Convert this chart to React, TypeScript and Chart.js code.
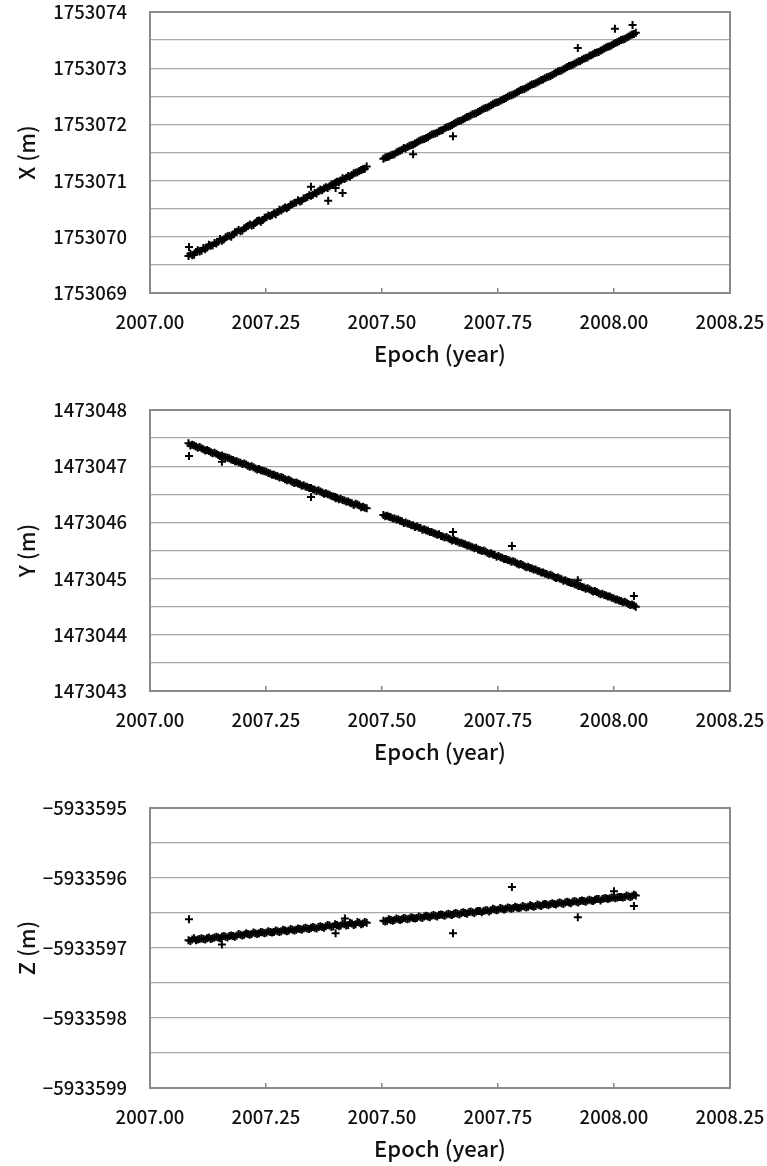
import React, { useEffect, useRef } from 'react';
import { Chart, registerables } from 'chart.js';

Chart.register(...registerables);

// Observation epochs (decimal year) of the daily solutions, first set
const EPOCHS = [
  2007.083, 2007.091, 2007.099, 2007.107, 2007.115, 2007.123, 2007.131, 2007.139, 2007.147, 2007.155,
  2007.163, 2007.171, 2007.179, 2007.187, 2007.195, 2007.203, 2007.211, 2007.219, 2007.227, 2007.235,
  2007.243, 2007.251, 2007.259, 2007.267, 2007.275, 2007.283, 2007.291, 2007.299, 2007.307, 2007.315,
  2007.323, 2007.331, 2007.339, 2007.347, 2007.355, 2007.363, 2007.371, 2007.379, 2007.387, 2007.395,
  2007.403, 2007.411, 2007.419, 2007.427, 2007.435, 2007.443, 2007.451, 2007.459, 2007.467,
  2007.503, 2007.511, 2007.519, 2007.527, 2007.535, 2007.543, 2007.551, 2007.559, 2007.567, 2007.575,
  2007.583, 2007.591, 2007.599, 2007.607, 2007.615, 2007.623, 2007.631, 2007.639, 2007.647, 2007.655,
  2007.663, 2007.671, 2007.679, 2007.687, 2007.695, 2007.703, 2007.711, 2007.719, 2007.727, 2007.735,
  2007.743, 2007.751, 2007.759, 2007.767, 2007.775, 2007.783, 2007.791, 2007.799, 2007.807, 2007.815,
  2007.823, 2007.831, 2007.839, 2007.847, 2007.855, 2007.863, 2007.871, 2007.879, 2007.887, 2007.895,
  2007.903, 2007.911, 2007.919, 2007.927, 2007.935, 2007.943, 2007.951, 2007.959, 2007.967, 2007.975,
  2007.983, 2007.991, 2007.999, 2008.007, 2008.015, 2008.023, 2008.031, 2008.039, 2008.047,
];

// Observation epochs of the daily solutions, second (interleaved) set
const EPOCHS_MID = [
  2007.087, 2007.095, 2007.103, 2007.111, 2007.119, 2007.127, 2007.135, 2007.143, 2007.151, 2007.159,
  2007.167, 2007.175, 2007.183, 2007.191, 2007.199, 2007.207, 2007.215, 2007.223, 2007.231, 2007.239,
  2007.247, 2007.255, 2007.263, 2007.271, 2007.279, 2007.287, 2007.295, 2007.303, 2007.311, 2007.319,
  2007.327, 2007.335, 2007.343, 2007.351, 2007.359, 2007.367, 2007.375, 2007.383, 2007.391, 2007.399,
  2007.407, 2007.415, 2007.423, 2007.431, 2007.439, 2007.447, 2007.455, 2007.463,
  2007.507, 2007.515, 2007.523, 2007.531, 2007.539, 2007.547, 2007.555, 2007.563, 2007.571, 2007.579,
  2007.587, 2007.595, 2007.603, 2007.611, 2007.619, 2007.627, 2007.635, 2007.643, 2007.651, 2007.659,
  2007.667, 2007.675, 2007.683, 2007.691, 2007.699, 2007.707, 2007.715, 2007.723, 2007.731, 2007.739,
  2007.747, 2007.755, 2007.763, 2007.771, 2007.779, 2007.787, 2007.795, 2007.803, 2007.811, 2007.819,
  2007.827, 2007.835, 2007.843, 2007.851, 2007.859, 2007.867, 2007.875, 2007.883, 2007.891, 2007.899,
  2007.907, 2007.915, 2007.923, 2007.931, 2007.939, 2007.947, 2007.955, 2007.963, 2007.971, 2007.979,
  2007.987, 2007.995, 2008.003, 2008.011, 2008.019, 2008.027, 2008.035, 2008.043,
];

// X coordinate (m)
const X_VALUES = [
  1753069.66, 1753069.67, 1753069.73, 1753069.74, 1753069.80, 1753069.81, 1753069.84, 1753069.89, 1753069.91, 1753069.93,
  1753069.99, 1753070.02, 1753070.04, 1753070.09, 1753070.10, 1753070.15, 1753070.19, 1753070.20, 1753070.25, 1753070.29,
  1753070.30, 1753070.35, 1753070.37, 1753070.42, 1753070.44, 1753070.47, 1753070.52, 1753070.53, 1753070.58, 1753070.61,
  1753070.63, 1753070.68, 1753070.71, 1753070.73, 1753070.78, 1753070.81, 1753070.83, 1753070.88, 1753070.90, 1753070.94,
  1753070.98, 1753071.00, 1753071.03, 1753071.08, 1753071.10, 1753071.14, 1753071.17, 1753071.20, 1753071.25,
  1753071.39, 1753071.42, 1753071.45, 1753071.47, 1753071.52, 1753071.55, 1753071.57, 1753071.62, 1753071.64, 1753071.68,
  1753071.72, 1753071.74, 1753071.77, 1753071.82, 1753071.84, 1753071.88, 1753071.90, 1753071.95, 1753071.97, 1753072.01,
  1753072.05, 1753072.07, 1753072.11, 1753072.14, 1753072.18, 1753072.20, 1753072.24, 1753072.28, 1753072.30, 1753072.34,
  1753072.38, 1753072.40, 1753072.44, 1753072.47, 1753072.51, 1753072.53, 1753072.57, 1753072.61, 1753072.63, 1753072.67,
  1753072.71, 1753072.73, 1753072.77, 1753072.80, 1753072.84, 1753072.86, 1753072.90, 1753072.94, 1753072.96, 1753073.00,
  1753073.04, 1753073.06, 1753073.10, 1753073.13, 1753073.17, 1753073.19, 1753073.23, 1753073.27, 1753073.29, 1753073.33,
  1753073.37, 1753073.39, 1753073.43, 1753073.46, 1753073.50, 1753073.52, 1753073.56, 1753073.60, 1753073.63,
];
const X_VALUES_MID = [
  1753069.70, 1753069.68, 1753069.76, 1753069.75, 1753069.78, 1753069.86, 1753069.85, 1753069.88, 1753069.96, 1753069.95,
  1753070.01, 1753070.00, 1753070.08, 1753070.12, 1753070.11, 1753070.17, 1753070.22, 1753070.21, 1753070.28, 1753070.27,
  1753070.34, 1753070.38, 1753070.39, 1753070.40, 1753070.48, 1753070.50, 1753070.51, 1753070.57, 1753070.60, 1753070.65,
  1753070.64, 1753070.69, 1753070.74, 1753070.75, 1753070.77, 1753070.84, 1753070.86, 1753070.87, 1753070.93, 1753070.96,
  1753070.97, 1753071.04, 1753071.05, 1753071.07, 1753071.13, 1753071.15, 1753071.19, 1753071.21,
  1753071.41, 1753071.43, 1753071.46, 1753071.50, 1753071.53, 1753071.58, 1753071.60, 1753071.63, 1753071.66, 1753071.70,
  1753071.73, 1753071.76, 1753071.80, 1753071.83, 1753071.85, 1753071.89, 1753071.93, 1753071.96, 1753071.99, 1753072.03,
  1753072.06, 1753072.09, 1753072.13, 1753072.16, 1753072.19, 1753072.22, 1753072.26, 1753072.29, 1753072.32, 1753072.36,
  1753072.39, 1753072.42, 1753072.45, 1753072.49, 1753072.52, 1753072.55, 1753072.59, 1753072.62, 1753072.65, 1753072.69,
  1753072.72, 1753072.75, 1753072.79, 1753072.82, 1753072.85, 1753072.88, 1753072.92, 1753072.95, 1753072.98, 1753073.02,
  1753073.05, 1753073.08, 1753073.12, 1753073.15, 1753073.18, 1753073.22, 1753073.25, 1753073.28, 1753073.31, 1753073.35,
  1753073.38, 1753073.41, 1753073.45, 1753073.48, 1753073.51, 1753073.54, 1753073.58, 1753073.61,
];

// Y coordinate (m)
const Y_VALUES = [
  1473047.41, 1473047.38, 1473047.35, 1473047.34, 1473047.30, 1473047.29, 1473047.25, 1473047.24, 1473047.20, 1473047.19,
  1473047.16, 1473047.14, 1473047.11, 1473047.09, 1473047.06, 1473047.05, 1473047.01, 1473047.00, 1473046.96, 1473046.95,
  1473046.92, 1473046.90, 1473046.87, 1473046.85, 1473046.82, 1473046.81, 1473046.77, 1473046.76, 1473046.72, 1473046.71,
  1473046.68, 1473046.66, 1473046.63, 1473046.61, 1473046.58, 1473046.57, 1473046.53, 1473046.52, 1473046.49, 1473046.46,
  1473046.44, 1473046.42, 1473046.39, 1473046.37, 1473046.34, 1473046.33, 1473046.30, 1473046.28, 1473046.25,
  1473046.13, 1473046.12, 1473046.09, 1473046.07, 1473046.05, 1473046.02, 1473046.00, 1473045.97, 1473045.95, 1473045.93,
  1473045.90, 1473045.88, 1473045.85, 1473045.83, 1473045.80, 1473045.79, 1473045.75, 1473045.74, 1473045.70, 1473045.69,
  1473045.66, 1473045.64, 1473045.61, 1473045.59, 1473045.56, 1473045.55, 1473045.51, 1473045.50, 1473045.46, 1473045.45,
  1473045.42, 1473045.40, 1473045.37, 1473045.35, 1473045.32, 1473045.31, 1473045.27, 1473045.26, 1473045.22, 1473045.21,
  1473045.18, 1473045.16, 1473045.13, 1473045.11, 1473045.08, 1473045.07, 1473045.03, 1473045.02, 1473044.99, 1473044.97,
  1473044.94, 1473044.92, 1473044.89, 1473044.87, 1473044.84, 1473044.83, 1473044.79, 1473044.78, 1473044.74, 1473044.73,
  1473044.70, 1473044.68, 1473044.65, 1473044.63, 1473044.60, 1473044.59, 1473044.55, 1473044.54, 1473044.50,
];
const Y_VALUES_MID = [
  1473047.37, 1473047.37, 1473047.33, 1473047.32, 1473047.28, 1473047.27, 1473047.23, 1473047.22, 1473047.18, 1473047.17,
  1473047.15, 1473047.12, 1473047.09, 1473047.07, 1473047.04, 1473047.03, 1473046.99, 1473046.98, 1473046.94, 1473046.93,
  1473046.91, 1473046.88, 1473046.85, 1473046.83, 1473046.80, 1473046.79, 1473046.75, 1473046.74, 1473046.70, 1473046.69,
  1473046.65, 1473046.64, 1473046.61, 1473046.59, 1473046.56, 1473046.55, 1473046.51, 1473046.50, 1473046.47, 1473046.45,
  1473046.41, 1473046.40, 1473046.37, 1473046.35, 1473046.31, 1473046.32, 1473046.27, 1473046.26,
  1473046.11, 1473046.10, 1473046.07, 1473046.05, 1473046.03, 1473045.99, 1473045.98, 1473045.95, 1473045.92, 1473045.91,
  1473045.87, 1473045.86, 1473045.83, 1473045.81, 1473045.78, 1473045.76, 1473045.73, 1473045.72, 1473045.68, 1473045.67,
  1473045.64, 1473045.62, 1473045.59, 1473045.57, 1473045.54, 1473045.52, 1473045.49, 1473045.48, 1473045.44, 1473045.43,
  1473045.39, 1473045.38, 1473045.35, 1473045.33, 1473045.30, 1473045.29, 1473045.25, 1473045.24, 1473045.20, 1473045.19,
  1473045.16, 1473045.14, 1473045.11, 1473045.09, 1473045.06, 1473045.05, 1473045.01, 1473045.00, 1473044.96, 1473044.95,
  1473044.92, 1473044.90, 1473044.87, 1473044.85, 1473044.82, 1473044.81, 1473044.77, 1473044.76, 1473044.72, 1473044.71,
  1473044.68, 1473044.66, 1473044.63, 1473044.61, 1473044.58, 1473044.57, 1473044.53, 1473044.52,
];

// Z coordinate (m)
const Z_VALUES = [
  -5933596.89, -5933596.88, -5933596.89, -5933596.87, -5933596.87, -5933596.86, -5933596.87, -5933596.85, -5933596.85, -5933596.84,
  -5933596.84, -5933596.83, -5933596.83, -5933596.82, -5933596.81, -5933596.81, -5933596.80, -5933596.80, -5933596.79, -5933596.79,
  -5933596.78, -5933596.78, -5933596.77, -5933596.77, -5933596.76, -5933596.76, -5933596.75, -5933596.75, -5933596.74, -5933596.74,
  -5933596.73, -5933596.72, -5933596.72, -5933596.71, -5933596.71, -5933596.70, -5933596.70, -5933596.69, -5933596.68, -5933596.69,
  -5933596.67, -5933596.68, -5933596.66, -5933596.67, -5933596.65, -5933596.66, -5933596.64, -5933596.65, -5933596.64,
  -5933596.61, -5933596.61, -5933596.60, -5933596.60, -5933596.59, -5933596.59, -5933596.58, -5933596.58, -5933596.57, -5933596.57,
  -5933596.56, -5933596.55, -5933596.55, -5933596.54, -5933596.54, -5933596.53, -5933596.53, -5933596.52, -5933596.52, -5933596.51,
  -5933596.51, -5933596.50, -5933596.50, -5933596.49, -5933596.49, -5933596.48, -5933596.47, -5933596.47, -5933596.46, -5933596.46,
  -5933596.45, -5933596.45, -5933596.44, -5933596.44, -5933596.43, -5933596.43, -5933596.42, -5933596.42, -5933596.41, -5933596.41,
  -5933596.40, -5933596.40, -5933596.39, -5933596.38, -5933596.38, -5933596.37, -5933596.37, -5933596.36, -5933596.36, -5933596.35,
  -5933596.35, -5933596.34, -5933596.34, -5933596.33, -5933596.33, -5933596.32, -5933596.32, -5933596.31, -5933596.30, -5933596.30,
  -5933596.29, -5933596.29, -5933596.28, -5933596.28, -5933596.27, -5933596.27, -5933596.26, -5933596.26, -5933596.25,
];
const Z_VALUES_MID = [
  -5933596.90, -5933596.86, -5933596.88, -5933596.86, -5933596.88, -5933596.85, -5933596.86, -5933596.84, -5933596.86, -5933596.83,
  -5933596.85, -5933596.82, -5933596.84, -5933596.80, -5933596.82, -5933596.79, -5933596.81, -5933596.78, -5933596.80, -5933596.77,
  -5933596.79, -5933596.76, -5933596.78, -5933596.75, -5933596.77, -5933596.74, -5933596.76, -5933596.73, -5933596.75, -5933596.72,
  -5933596.74, -5933596.71, -5933596.73, -5933596.70, -5933596.72, -5933596.69, -5933596.71, -5933596.67, -5933596.70, -5933596.66,
  -5933596.69, -5933596.65, -5933596.68, -5933596.64, -5933596.67, -5933596.63, -5933596.66, -5933596.63,
  -5933596.62, -5933596.59, -5933596.61, -5933596.58, -5933596.60, -5933596.57, -5933596.59, -5933596.56, -5933596.58, -5933596.55,
  -5933596.57, -5933596.54, -5933596.56, -5933596.53, -5933596.55, -5933596.52, -5933596.54, -5933596.51, -5933596.53, -5933596.50,
  -5933596.52, -5933596.49, -5933596.51, -5933596.48, -5933596.50, -5933596.47, -5933596.49, -5933596.46, -5933596.48, -5933596.44,
  -5933596.46, -5933596.43, -5933596.45, -5933596.42, -5933596.44, -5933596.41, -5933596.43, -5933596.40, -5933596.42, -5933596.39,
  -5933596.41, -5933596.38, -5933596.40, -5933596.37, -5933596.39, -5933596.36, -5933596.38, -5933596.35, -5933596.37, -5933596.34,
  -5933596.36, -5933596.33, -5933596.35, -5933596.32, -5933596.34, -5933596.31, -5933596.33, -5933596.30, -5933596.32, -5933596.29,
  -5933596.30, -5933596.28, -5933596.29, -5933596.27, -5933596.28, -5933596.25, -5933596.27, -5933596.24,
];

// Outlying solutions
const X_OUT_EPOCHS = [2007.084, 2007.347, 2007.384, 2007.400, 2007.415, 2007.567, 2007.653, 2007.922, 2008.002, 2008.040];
const X_OUT_VALUES = [1753069.82, 1753070.89, 1753070.64, 1753070.87, 1753070.78, 1753071.47, 1753071.79, 1753073.36, 1753073.70, 1753073.77];

const Y_OUT_EPOCHS = [2007.084, 2007.155, 2007.347, 2007.400, 2007.653, 2007.780, 2007.922, 2008.043];
const Y_OUT_VALUES = [1473047.18, 1473047.08, 1473046.45, 1473046.43, 1473045.83, 1473045.58, 1473044.97, 1473044.69];

const Z_OUT_EPOCHS = [2007.084, 2007.155, 2007.400, 2007.420, 2007.653, 2007.780, 2007.922, 2008.000, 2008.043];
const Z_OUT_VALUES = [-5933596.59, -5933596.95, -5933596.79, -5933596.58, -5933596.79, -5933596.13, -5933596.56, -5933596.19, -5933596.40];

// Axis settings
const X_MIN = 2007.0;
const X_MAX = 2008.25;
const X_STEP = 0.25;
const Y_STEP = 0.5;
const X_TITLE = 'Epoch (year)';

const FONT = "'Noto Sans CJK JP', 'Noto Sans', sans-serif";
const TEXT_COLOR = '#111';

interface PanelCfg {
  yTitle: string;
  values: number[];
  valuesMid: number[];
  outEpochs: number[];
  outValues: number[];
  yMin: number;
  yMax: number;
  top: number;
  height: number;
  padTop: number;
  axisH: number;
}

const PANELS: PanelCfg[] = [
  { yTitle: 'X (m)', values: X_VALUES, valuesMid: X_VALUES_MID, outEpochs: X_OUT_EPOCHS, outValues: X_OUT_VALUES, yMin: 1753069, yMax: 1753074, top: 0, height: 373, padTop: 12, axisH: 80 },
  { yTitle: 'Y (m)', values: Y_VALUES, valuesMid: Y_VALUES_MID, outEpochs: Y_OUT_EPOCHS, outValues: Y_OUT_VALUES, yMin: 1473043, yMax: 1473048, top: 373, height: 398, padTop: 37, axisH: 80 },
  { yTitle: 'Z (m)', values: Z_VALUES, valuesMid: Z_VALUES_MID, outEpochs: Z_OUT_EPOCHS, outValues: Z_OUT_VALUES, yMin: -5933599, yMax: -5933595, top: 771, height: 395, padTop: 37, axisH: 78 },
];

const framePlugin = {
  id: 'frame',
  beforeDatasetsDraw(chart: any) {
    const { ctx, chartArea } = chart;
    ctx.save();
    ctx.strokeStyle = '#8a8a8a';
    ctx.lineWidth = 2;
    ctx.strokeRect(chartArea.left, chartArea.top, chartArea.right - chartArea.left, chartArea.bottom - chartArea.top);
    ctx.restore();
  },
};

function fmtY(v: number): string {
  if (!Number.isInteger(v)) return '';
  return v < 0 ? '\u2212' + String(Math.abs(v)) : String(v);
}

function Panel({ cfg }: { cfg: PanelCfg }) {
  const ref = useRef<HTMLCanvasElement>(null);
  useEffect(() => {
    if (!ref.current) return;
    const points = EPOCHS.map((x, i) => ({ x, y: cfg.values[i] }))
      .concat(EPOCHS_MID.map((x, i) => ({ x, y: cfg.valuesMid[i] })))
      .concat(cfg.outEpochs.map((x, i) => ({ x, y: cfg.outValues[i] })));
    const titleSize = 22;
    const titleLH = titleSize * 1.2;
    const chart = new Chart(ref.current, {
      type: 'scatter',
      data: {
        datasets: [
          {
            data: points,
            pointStyle: 'cross',
            pointRadius: 4,
            pointHoverRadius: 4,
            pointBorderWidth: 2,
            borderColor: '#000',
            backgroundColor: '#000',
          },
        ],
      },
      options: {
        animation: false,
        responsive: false,
        events: [],
        layout: { padding: { top: cfg.padTop, right: 37, bottom: 0, left: 0 } },
        plugins: { legend: { display: false }, tooltip: { enabled: false } },
        scales: {
          x: {
            type: 'linear',
            min: X_MIN,
            max: X_MAX,
            ticks: {
              stepSize: X_STEP,
              autoSkip: false,
              maxRotation: 0,
              padding: 23,
              color: TEXT_COLOR,
              font: { family: FONT, size: 18.5, weight: '500' },
              callback: (v: any) => Number(v).toFixed(2),
            },
            grid: { drawOnChartArea: false, drawTicks: true, tickLength: -5, color: '#888', lineWidth: 1.5 },
            border: { color: '#858585', width: 2 },
            title: {
              display: true,
              text: X_TITLE,
              color: TEXT_COLOR,
              font: { family: FONT, size: titleSize, weight: '500' },
              padding: { top: 0, bottom: cfg.axisH - 61 - titleLH / 2 },
            },
            afterFit: (s: any) => {
              s.height = cfg.axisH;
              s.paddingLeft = 0;
              s.paddingRight = 30;
            },
          },
          y: {
            type: 'linear',
            min: cfg.yMin,
            max: cfg.yMax,
            ticks: {
              stepSize: Y_STEP,
              autoSkip: false,
              padding: 23,
              color: TEXT_COLOR,
              font: { family: FONT, size: 18.5, weight: '500' },
              callback: (v: any) => fmtY(Number(v)),
            },
            grid: { drawTicks: false, color: '#a8a8a8', lineWidth: 1.3 },
            border: { color: '#858585', width: 2 },
            title: {
              display: true,
              text: cfg.yTitle,
              color: TEXT_COLOR,
              font: { family: FONT, size: titleSize, weight: '500' },
              padding: { top: 13, bottom: 0 },
            },
            afterFit: (s: any) => {
              s.width = 150;
              s.paddingTop = 10;
              s.paddingBottom = 10;
            },
          },
        },
      },
      plugins: [framePlugin],
    } as any);
    return () => chart.destroy();
  }, [cfg]);
  return (
    <canvas
      ref={ref}
      width={767}
      height={cfg.height}
      style={{ position: 'absolute', left: 0, top: cfg.top, display: 'block' }}
    />
  );
}

export default function App() {
  return (
    <div style={{ position: 'absolute', left: 0, top: 0, width: 767, height: 1166, background: '#fff', overflow: 'hidden' }}>
      {PANELS.map((p, i) => (
        <Panel key={i} cfg={p} />
      ))}
    </div>
  );
}
